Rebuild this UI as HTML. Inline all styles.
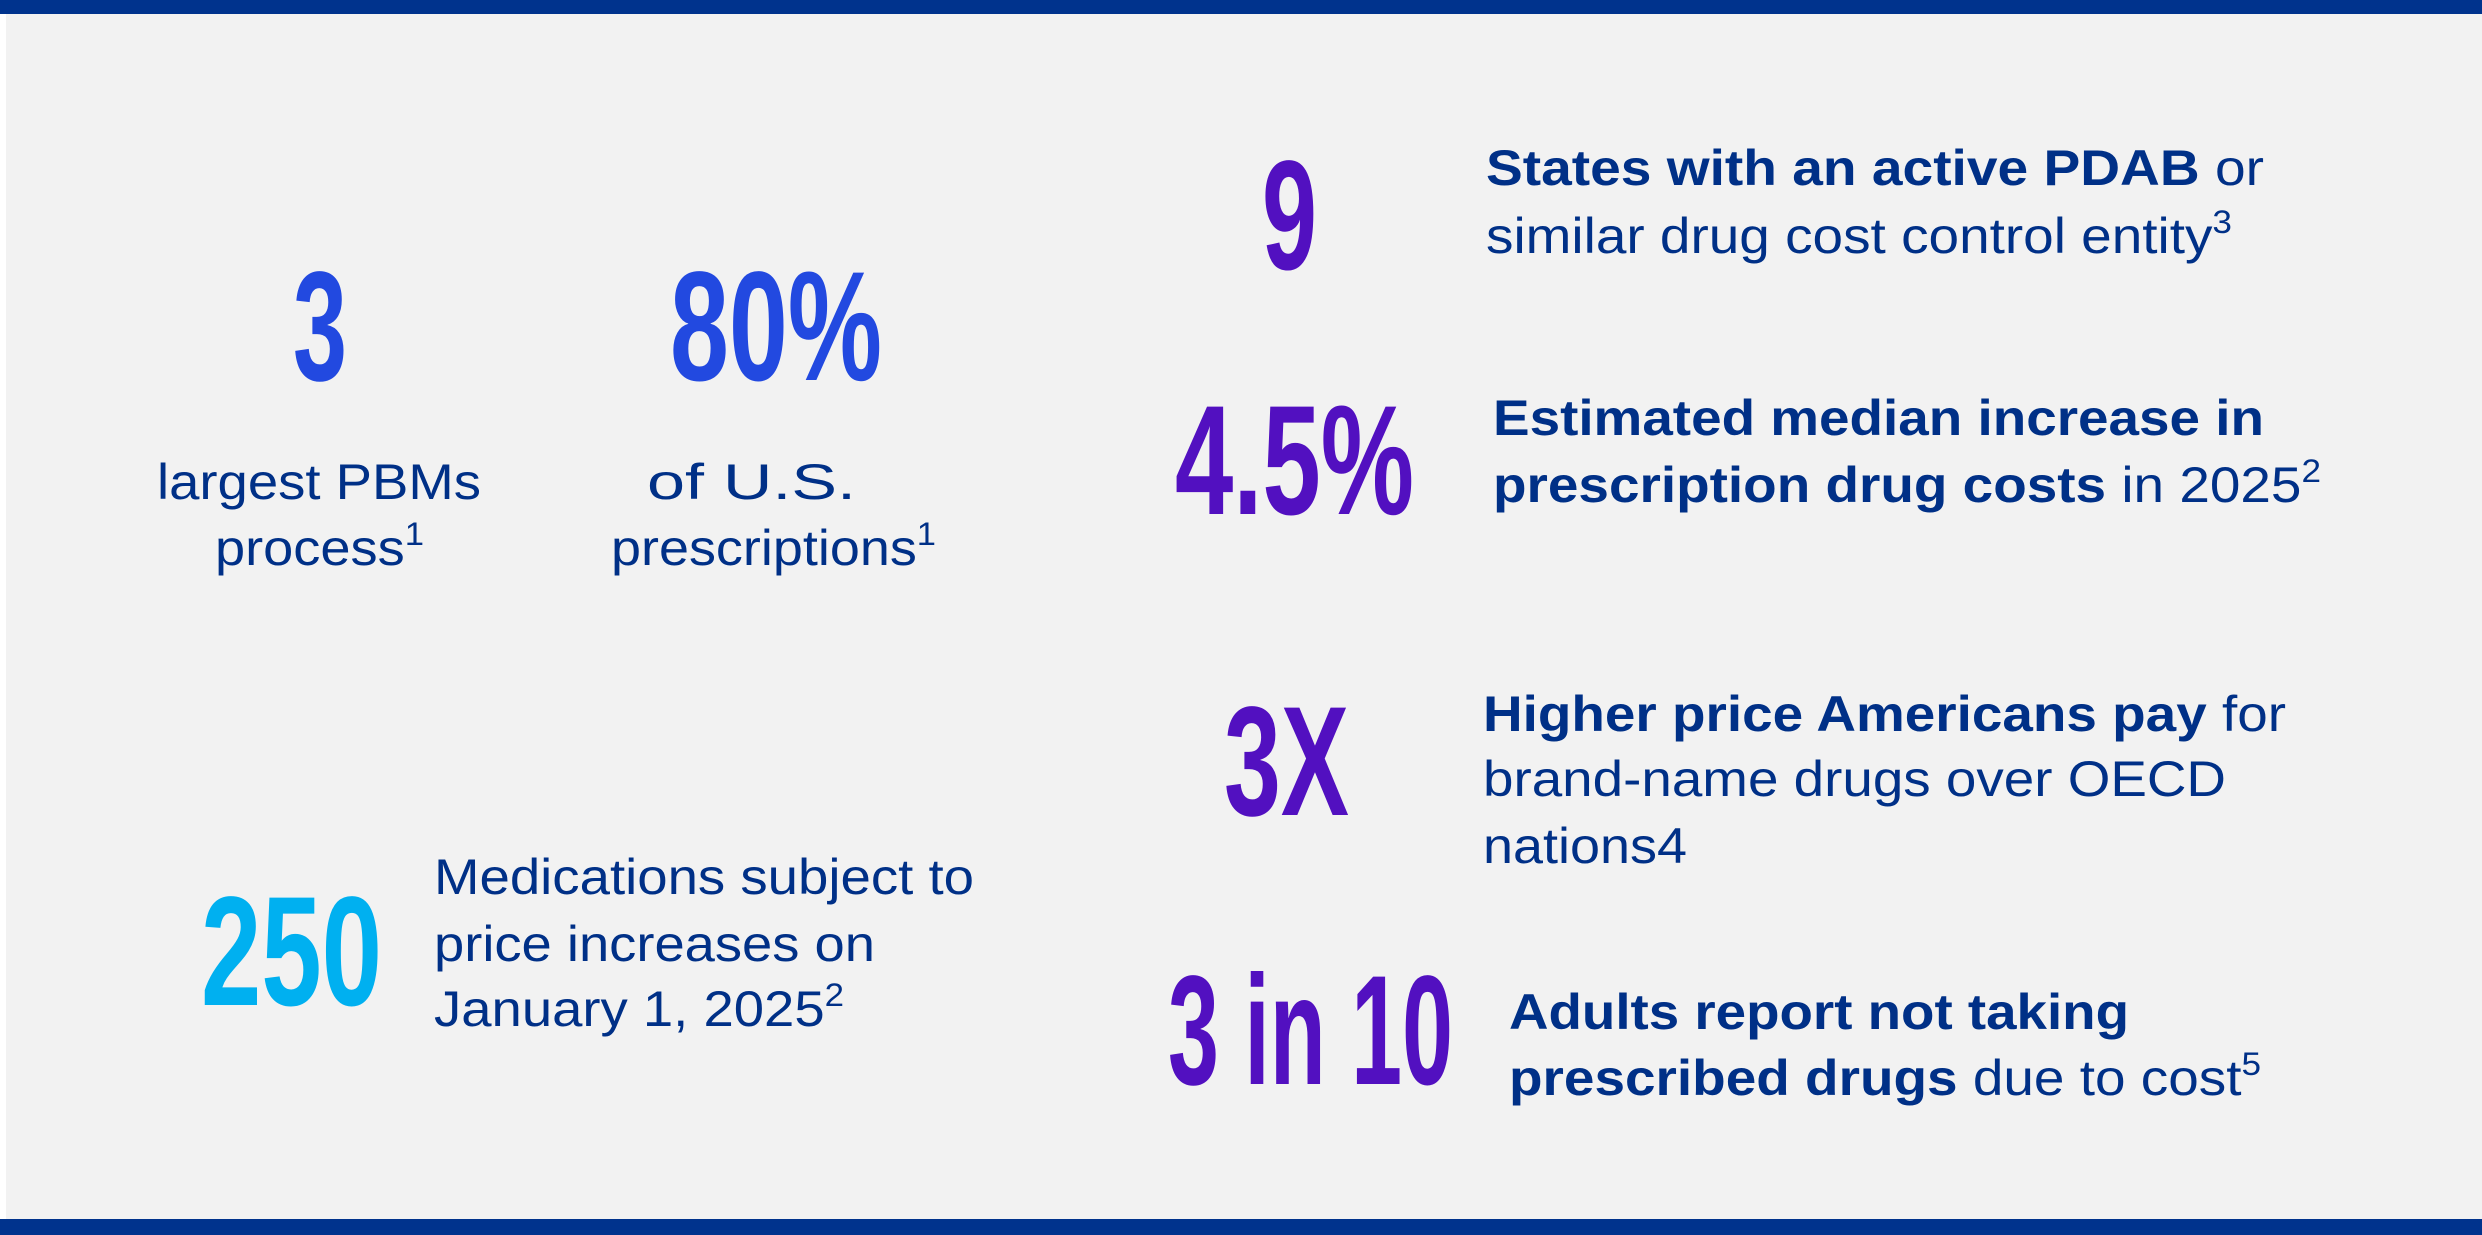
<!DOCTYPE html>
<html><head><meta charset="utf-8"><style>
html,body{margin:0;padding:0;background:#f2f2f2;}
svg{display:block}
.n{font-family:"Liberation Sans Narrow","Liberation Sans",sans-serif;font-weight:bold;font-size:156px}
.t{font-family:"Liberation Sans",sans-serif;font-size:50px;fill:#003087}
.b{font-weight:bold}
</style></head><body>
<svg width="2482" height="1235" viewBox="0 0 2482 1235" xmlns="http://www.w3.org/2000/svg">
<rect x="0" y="0" width="2482" height="1235" fill="#ffffff"/>
<rect x="6" y="0" width="2476" height="1235" fill="#f2f2f2"/>
<rect x="0" y="0" width="2482" height="14" fill="#00338d"/>
<rect x="0" y="1219" width="2482" height="16" fill="#00338d"/>

<g class="n">
<text x="293" y="380" fill="#2249e0" textLength="54" lengthAdjust="spacingAndGlyphs">3</text>
<text x="670" y="380" fill="#2249e0" textLength="212" lengthAdjust="spacingAndGlyphs">80%</text>
<text x="1262" y="269" fill="#5210c0" textLength="55" lengthAdjust="spacingAndGlyphs">9</text>
<text x="1175" y="514" fill="#5210c0" textLength="239" lengthAdjust="spacingAndGlyphs">4.5%</text>
<text x="1224" y="815" fill="#5210c0" textLength="125" lengthAdjust="spacingAndGlyphs">3X</text>
<text x="201" y="1005" fill="#00b0f0" textLength="181" lengthAdjust="spacingAndGlyphs">250</text>
<text x="1168" y="1084" fill="#5210c0" textLength="285" lengthAdjust="spacingAndGlyphs">3 in 10</text>
</g>

<g class="t">
<text x="157" y="499" textLength="324" lengthAdjust="spacingAndGlyphs">largest PBMs</text>
<text x="215" y="565" textLength="209" lengthAdjust="spacingAndGlyphs">process<tspan font-size="32" dy="-20">1</tspan></text>
<text x="647" y="499" textLength="209" lengthAdjust="spacingAndGlyphs">of U.S.</text>
<text x="611" y="565" textLength="325" lengthAdjust="spacingAndGlyphs">prescriptions<tspan font-size="32" dy="-20">1</tspan></text>

<text x="1486" y="185" textLength="778" lengthAdjust="spacingAndGlyphs"><tspan class="b">States with an active PDAB</tspan> or</text>
<text x="1486" y="253" textLength="746" lengthAdjust="spacingAndGlyphs">similar drug cost control entity<tspan font-size="32" dy="-20">3</tspan></text>

<text x="1493" y="435" textLength="771" lengthAdjust="spacingAndGlyphs" class="b">Estimated median increase in</text>
<text x="1493" y="502" textLength="828" lengthAdjust="spacingAndGlyphs"><tspan class="b">prescription drug costs</tspan> in 2025<tspan font-size="32" dy="-20">2</tspan></text>

<text x="1483" y="731" textLength="803" lengthAdjust="spacingAndGlyphs"><tspan class="b">Higher price Americans pay</tspan> for</text>
<text x="1483" y="796" textLength="743" lengthAdjust="spacingAndGlyphs">brand-name drugs over OECD</text>
<text x="1483" y="863" textLength="204" lengthAdjust="spacingAndGlyphs">nations4</text>

<text x="434" y="894" textLength="540" lengthAdjust="spacingAndGlyphs">Medications subject to</text>
<text x="434" y="961" textLength="441" lengthAdjust="spacingAndGlyphs">price increases on</text>
<text x="434" y="1026" textLength="410" lengthAdjust="spacingAndGlyphs">January 1, 2025<tspan font-size="32" dy="-20">2</tspan></text>

<text x="1509" y="1029" textLength="620" lengthAdjust="spacingAndGlyphs" class="b">Adults report not taking</text>
<text x="1509" y="1095" textLength="752" lengthAdjust="spacingAndGlyphs"><tspan class="b">prescribed drugs</tspan> due to cost<tspan font-size="32" dy="-20">5</tspan></text>
</g>
</svg>
</body></html>
